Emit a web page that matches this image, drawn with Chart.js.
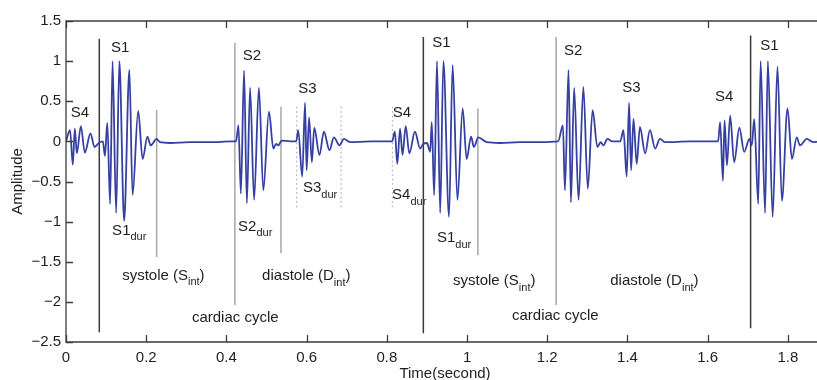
<!DOCTYPE html>
<html>
<head>
<meta charset="utf-8">
<script src="https://cdn.jsdelivr.net/npm/chart.js@4.4.1/dist/chart.umd.min.js"></script>
<style>
  html, body { margin: 0; padding: 0; background: #fff; overflow: hidden; }
  #wrap { width: 830px; height: 380px; }
</style>
</head>
<body>
<div id="wrap"><canvas id="grafico" width="830" height="380"></canvas></div>
<script>
// señal del fonocardiograma (segundos / amplitud)
const times = [
  0.000, 0.010, 0.017, 0.022, 0.027, 0.037, 0.047, 0.061, 0.071, 0.082,
  0.092, 0.097, 0.103, 0.110, 0.116, 0.125, 0.133, 0.145, 0.158, 0.166,
  0.180, 0.191, 0.203, 0.211, 0.226, 0.234, 0.259, 0.309, 0.359, 0.414,
  0.424, 0.430, 0.436, 0.444, 0.451, 0.459, 0.469, 0.481, 0.492, 0.506,
  0.517, 0.524, 0.529, 0.538, 0.559, 0.574, 0.579, 0.589, 0.596, 0.600,
  0.606, 0.613, 0.619, 0.632, 0.643, 0.657, 0.668, 0.682, 0.693, 0.708,
  0.758, 0.813, 0.820, 0.826, 0.833, 0.839, 0.847, 0.856, 0.870, 0.883,
  0.891, 0.900, 0.908, 0.912, 0.918, 0.925, 0.933, 0.941, 0.955, 0.964,
  0.976, 0.989, 0.999, 1.010, 1.017, 1.028, 1.049, 1.082, 1.132, 1.182,
  1.227, 1.239, 1.244, 1.253, 1.259, 1.267, 1.278, 1.290, 1.301, 1.313,
  1.325, 1.333, 1.340, 1.350, 1.362, 1.382, 1.390, 1.398, 1.404, 1.409,
  1.415, 1.423, 1.431, 1.444, 1.456, 1.469, 1.481, 1.494, 1.556, 1.626,
  1.631, 1.638, 1.642, 1.648, 1.656, 1.666, 1.679, 1.691, 1.704, 1.710,
  1.716, 1.726, 1.732, 1.743, 1.750, 1.762, 1.774, 1.785, 1.799, 1.810,
  1.822, 1.830, 1.847, 1.863, 1.893
];
const amps = [
  0.00, 0.14, -0.29, 0.16, -0.15, 0.19, -0.14, 0.10, -0.07, -0.02,
  0.00, -0.18, 0.23, -0.78, 1.00, -0.89, 1.00, -0.99, 0.89, -0.67,
  0.38, -0.22, 0.06, -0.05, 0.03, -0.01, -0.02, -0.01, -0.01, 0.00,
  0.00, 0.20, -0.65, 0.88, -0.77, 0.67, -0.73, 0.67, -0.61, 0.37,
  -0.09, -0.03, -0.05, 0.01, 0.00, 0.00, 0.14, -0.44, 0.48, -0.36,
  0.30, -0.26, 0.17, -0.17, 0.12, -0.11, 0.05, -0.05, 0.03, -0.01,
  0.00, 0.00, 0.12, -0.28, 0.16, -0.17, 0.19, -0.15, 0.12, -0.09,
  -0.03, -0.02, -0.13, 0.24, -0.67, 1.00, -0.89, 1.00, -0.94, 0.95,
  -0.73, 0.41, -0.22, 0.06, -0.07, 0.05, -0.01, -0.02, -0.01, -0.01,
  0.00, 0.20, -0.61, 0.89, -0.76, 0.67, -0.73, 0.68, -0.59, 0.39,
  -0.07, -0.01, -0.05, 0.03, 0.00, 0.00, 0.14, -0.44, 0.48, -0.36,
  0.28, -0.28, 0.18, -0.15, 0.14, -0.09, 0.03, -0.01, 0.00, 0.00,
  0.24, -0.49, 0.26, -0.30, 0.32, -0.26, 0.17, -0.13, 0.03, -0.05,
  0.28, -0.78, 1.00, -0.89, 1.00, -0.94, 0.93, -0.74, 0.41, -0.22,
  0.05, -0.05, 0.03, -0.01, 0.00
];

// lineas verticales: [tiempo, arriba, abajo]
const cycleLines = [[0.083, 1.28, -2.38], [0.891, 1.30, -2.39], [1.707, 1.32, -2.33]];
const intervalLines = [[0.226, 0.39, -1.44], [0.421, 1.23, -2.04], [0.536, 0.43, -1.39],
                       [1.027, 0.41, -1.42], [1.222, 1.30, -2.04]];
const durationLines = [[0.575, 0.43, -0.82], [0.686, 0.43, -0.82], [0.814, 0.43, -0.82]];

// etiquetas: [texto, subindice, cola, tiempo (izq), amplitud]
const labels = [
  ["S4", "", "", 0.012, 0.36], ["S1", "", "", 0.112, 1.16], ["S2", "", "", 0.441, 1.06],
  ["S3", "", "", 0.579, 0.65], ["S4", "", "", 0.815, 0.36], ["S1", "", "", 0.913, 1.23],
  ["S2", "", "", 1.242, 1.13], ["S3", "", "", 1.387, 0.67], ["S4", "", "", 1.618, 0.55],
  ["S1", "", "", 1.731, 1.19],
  ["S1", "dur", "", 0.115, -1.11], ["S2", "dur", "", 0.429, -1.06],
  ["S3", "dur", "", 0.591, -0.58], ["S4", "dur", "", 0.813, -0.67],
  ["S1", "dur", "", 0.925, -1.20],
  ["systole (S", "int", ")", 0.140, -1.67], ["diastole (D", "int", ")", 0.489, -1.68],
  ["cardiac cycle", "", "", 0.314, -2.20],
  ["systole (S", "int", ")", 0.965, -1.74], ["cardiac cycle", "", "", 1.112, -2.17],
  ["diastole (D", "int", ")", 1.357, -1.74]
];

const xTitle = "Time(second)";
const yTitle = "Amplitude";

const FONT = "'Liberation Sans', Arial, Helvetica, sans-serif";
const TEXT = "#1e1e1e";
const AXIS = "#3c3c3c";

function fmt(v) {
  const r = Math.round(v * 10) / 10;
  return r < 0 ? "\u2212" + Math.abs(r) : String(r);
}

function lineSets(list, color, width, dash) {
  return list.map((l) => ({
    data: [{ x: l[0], y: l[1] }, { x: l[0], y: l[2] }],
    borderColor: color,
    borderWidth: width,
    borderDash: dash,
    pointRadius: 0,
    tension: 0,
    order: 2,
  }));
}

const marcoPlugin = {
  id: "marco",
  beforeDatasetsDraw(chart) {
    const { ctx, scales: { x, y } } = chart;
    ctx.save();
    ctx.fillStyle = TEXT;
    ctx.textBaseline = "middle";
    ctx.textAlign = "left";
    labels.forEach((l) => {
      let px = x.getPixelForValue(l[3]);
      const py = y.getPixelForValue(l[4]);
      ctx.font = "15px " + FONT;
      ctx.fillText(l[0], px, py);
      px += ctx.measureText(l[0]).width;
      if (l[1]) {
        ctx.font = "11px " + FONT;
        ctx.fillText(l[1], px, py + 7);
        px += ctx.measureText(l[1]).width;
      }
      if (l[2]) {
        ctx.font = "15px " + FONT;
        ctx.fillText(l[2], px, py);
      }
    });
    ctx.restore();
  },
  afterDraw(chart) {
    const { ctx, chartArea: a, scales: { x, y } } = chart;
    ctx.save();
    ctx.strokeStyle = AXIS;
    ctx.lineWidth = 1.3;
    ctx.beginPath();
    ctx.moveTo(a.right, a.top);
    ctx.lineTo(a.left, a.top);
    ctx.lineTo(a.left, a.bottom);
    ctx.lineTo(a.right, a.bottom);
    x.ticks.forEach((t) => {
      const px = Math.round(x.getPixelForValue(t.value)) + 0.5;
      ctx.moveTo(px, a.bottom);
      ctx.lineTo(px, a.bottom - 7);
      ctx.moveTo(px, a.top);
      ctx.lineTo(px, a.top + 7);
    });
    y.ticks.forEach((t) => {
      const py = Math.round(y.getPixelForValue(t.value)) + 0.5;
      ctx.moveTo(a.left, py);
      ctx.lineTo(a.left + 7, py);
    });
    ctx.stroke();

    ctx.fillStyle = TEXT;
    ctx.font = "15px " + FONT;
    ctx.textAlign = "center";
    ctx.textBaseline = "middle";
    ctx.fillText(xTitle, (a.left + a.right) / 2, 374);
    ctx.translate(18, (a.top + a.bottom) / 2);
    ctx.rotate(-Math.PI / 2);
    ctx.fillText(yTitle, 0, 0);
    ctx.restore();
  },
};

const signal = times.map((t, i) => ({ x: t, y: amps[i] }));

new Chart(document.getElementById("grafico"), {
  type: "line",
  data: {
    datasets: [
      {
        data: signal,
        borderColor: "#3640a3",
        borderWidth: 1.8,
        pointRadius: 0,
        cubicInterpolationMode: "monotone",
        order: 0,
      },
      ...lineSets(cycleLines, "#3a3a3a", 1.5, []),
      ...lineSets(intervalLines, "#a8a8a8", 1.5, []),
      ...lineSets(durationLines, "#b0b0b0", 1.3, [1.3, 3.2]),
    ],
  },
  options: {
    responsive: false,
    animation: false,
    events: [],
    layout: { padding: { top: 21, right: 6, left: 0, bottom: 0 } },
    plugins: { legend: { display: false }, tooltip: { enabled: false } },
    scales: {
      x: {
        type: "linear",
        min: 0,
        max: 1.89,
        grid: { display: false, drawTicks: false },
        border: { display: false },
        ticks: {
          stepSize: 0.2,
          includeBounds: false,
          maxRotation: 0,
          autoSkip: false,
          padding: 7,
          color: TEXT,
          font: { family: FONT, size: 15 },
          callback: (v) => fmt(v),
        },
        afterFit: (s) => { s.height = 38; },
      },
      y: {
        min: -2.5,
        max: 1.5,
        grid: { display: false, drawTicks: false },
        border: { display: false },
        ticks: {
          stepSize: 0.5,
          autoSkip: false,
          padding: 5,
          color: TEXT,
          font: { family: FONT, size: 15 },
          callback: (v) => fmt(v),
        },
        afterFit: (s) => { s.width = 66; },
      },
    },
  },
  plugins: [marcoPlugin],
});
</script>
</body>
</html>
